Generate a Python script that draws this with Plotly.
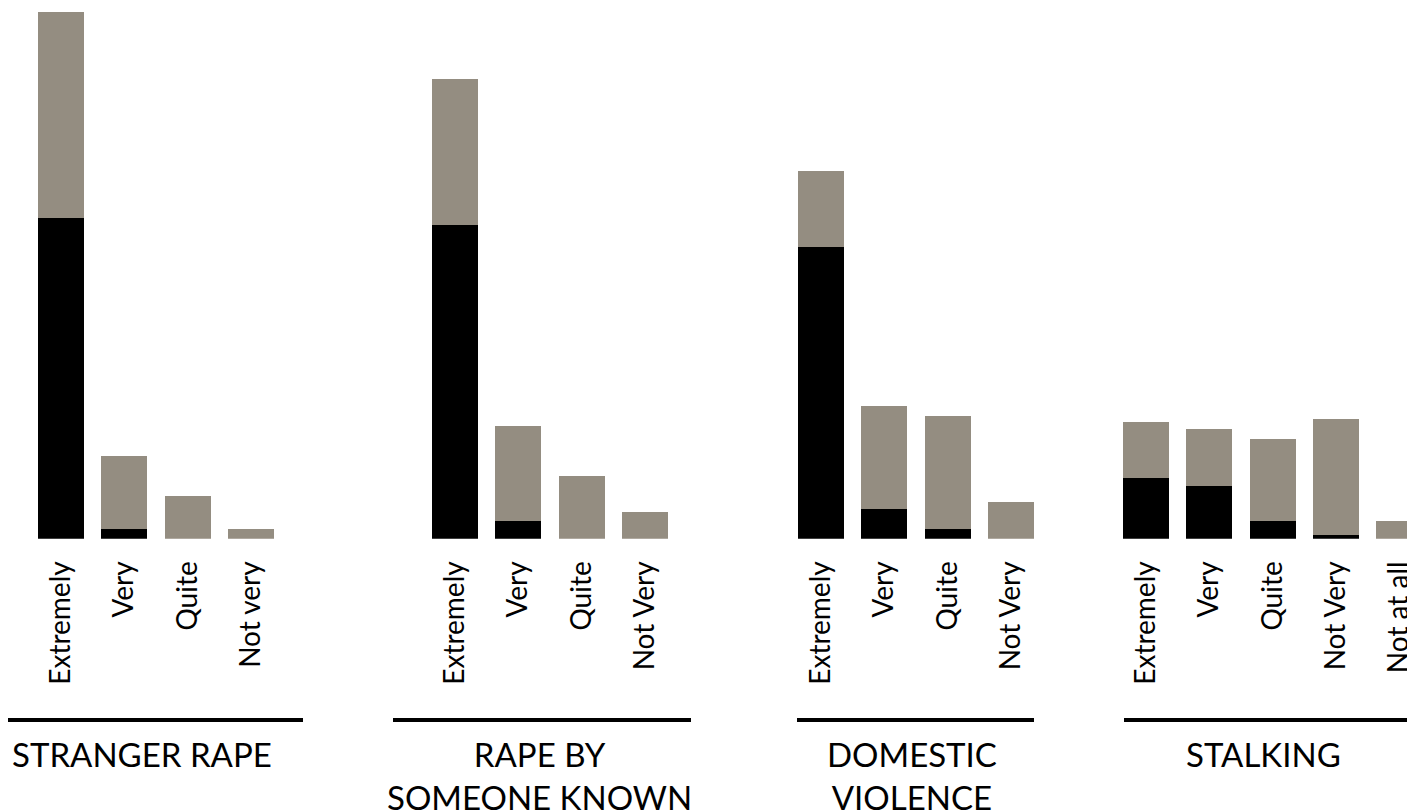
import plotly.graph_objects as go

# ---- data (percent) ----
groups = ["STRANGER RAPE", "RAPE BY<br>SOMEONE KNOWN", "DOMESTIC<br>VIOLENCE", "STALKING"]

cats_stranger = ["Extremely", "Very", "Quite", "Not very"]
black_stranger = [48.5, 1.5, 0.0, 0.0]
gray_stranger = [31.0, 11.0, 6.5, 1.5]

cats_known = ["Extremely", "Very", "Quite", "Not Very"]
black_known = [47.4, 2.6, 0.0, 0.0]
gray_known = [22.1, 14.5, 9.5, 4.1]

cats_domestic = ["Extremely", "Very", "Quite", "Not Very"]
black_domestic = [44.0, 4.5, 1.5, 0.0]
gray_domestic = [11.6, 15.6, 17.1, 5.6]

cats_stalking = ["Extremely", "Very", "Quite", "Not Very", "Not at all"]
black_stalking = [9.1, 8.0, 2.6, 0.6, 0.0]
gray_stalking = [8.6, 8.6, 12.5, 17.5, 2.6]

BLACK = "#000000"
GRAY = "#948D81"
FONT = "Lato"

series = [
    (cats_stranger, black_stranger, gray_stranger),
    (cats_known, black_known, gray_known),
    (cats_domestic, black_domestic, gray_domestic),
    (cats_stalking, black_stalking, gray_stalking),
]

W, H = 1415, 811
OFF = 8  # page body margin in the browser


def px(v):
    return (v - OFF) / W


def py(v):
    return (H - (v - OFF)) / H


SLOT = 63.3
starts = [29.3, 423.3, 789.3, 1114.3]
domains = []
ranges = []
for i, s in enumerate(starts):
    n = 4 if i < 3 else 5
    x0 = s - OFF
    x1 = min(x0 + n * SLOT, W)
    domains.append([x0 / W, x1 / W])
    ranges.append([-0.5, -0.5 + (x1 - x0) / SLOT])

baseline = 538.7
scale = 6.62
fig = go.Figure()
for i, (cats, blk, gry) in enumerate(series):
    xa = "x" if i == 0 else f"x{i+1}"
    fig.add_trace(go.Bar(x=cats, y=blk, marker_color=BLACK, marker_line_width=0,
                         xaxis=xa, yaxis="y", showlegend=False, hoverinfo="x+y"))
    fig.add_trace(go.Bar(x=cats, y=gry, marker_color=GRAY, marker_line_width=0,
                         xaxis=xa, yaxis="y", showlegend=False, hoverinfo="x+y"))

layout = dict(
    width=W, height=H,
    margin=dict(l=0, r=0, t=0, b=0),
    paper_bgcolor="white", plot_bgcolor="white",
    barmode="stack", bargap=0.273,
    showlegend=False,
    yaxis=dict(domain=[py(baseline), 1.0], range=[0, (baseline - OFF) / scale],
               visible=False, fixedrange=True),
)
for i in range(4):
    key = "xaxis" if i == 0 else f"xaxis{i+1}"
    layout[key] = dict(
        domain=domains[i], range=ranges[i], type="category",
        anchor="y", showgrid=False, zeroline=False, showline=False,
        ticks="", tickangle=-90, ticklabelstandoff=16,
        tickfont=dict(family=FONT, size=28, color="black"),
        fixedrange=True,
    )
fig.update_layout(**layout)

# group rules
rules = [(8, 303), (393, 691), (797, 1034), (1124, 1423)]
for x0, x1 in rules:
    fig.add_shape(type="line", xref="paper", yref="paper",
                  x0=px(x0), x1=px(x1), y0=py(720), y1=py(720),
                  line=dict(color="black", width=4))

title_x = [141.5, 539, 912, 1263]
for g, tx in zip(groups, title_x):
    fig.add_annotation(text=g, xref="paper", yref="paper", x=px(tx), y=py(732),
                       xanchor="center", yanchor="top", showarrow=False, align="center",
                       font=dict(family=FONT, size=33, color="black"))

fig.write_html("out.html")
